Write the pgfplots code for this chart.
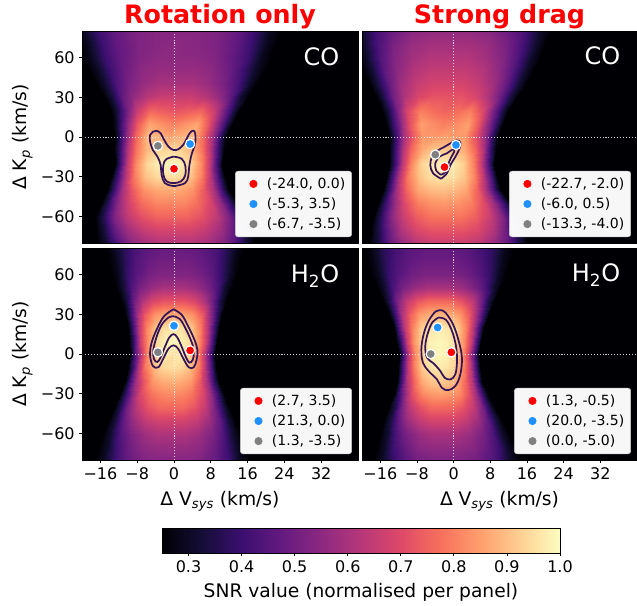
\documentclass[border=0pt]{standalone}
\usepackage{fontspec}
\setmainfont{DejaVu Sans}
\usepackage{pgfplots}
\pgfplotsset{compat=1.18}
\definecolor{contourcol}{RGB}{52,20,88}
\definecolor{mblue}{RGB}{30,144,255}
\definecolor{mgray}{RGB}{128,128,128}
\definecolor{mred}{RGB}{255,0,0}
\tikzset{ttl/.style={anchor=base, yshift=5.25pt, text=mred, font=\bfseries\fontsize{19}{22}\selectfont}}
\pgfplotsset{
  colormap={magma}{rgb255=(0,0,4) rgb255=(20,14,54) rgb255=(59,15,112) rgb255=(100,26,128) rgb255=(140,41,129) rgb255=(183,55,121) rgb255=(222,73,104) rgb255=(247,112,92) rgb255=(254,159,109) rgb255=(254,207,146) rgb255=(252,253,191)},
  panel/.style={
    width=207pt, height=159pt, scale only axis, anchor=north west,
    xmin=-20, xmax=40, ymin=-80, ymax=80,
    axis on top, axis line style={black, line width=0.6pt},
    point meta min=0.25, point meta max=1, colormap name=magma,
    tick align=outside, major tick length=2pt, tick style={black, line width=0.6pt},
    xtick={-16,-8,0,8,16,24,32}, ytick={-60,-30,0,30,60},
    xticklabels={−16,−8,0,8,16,24,32}, yticklabels={−60,−30,0,30,60},
    xtick pos=bottom, ytick pos=left,
    ticklabel style={font=\fontsize{12}{14}\selectfont},
    label style={font=\fontsize{14}{16}\selectfont},
    legend style={at={(0.978,0.028)}, anchor=south east, font=\fontsize{10.5}{12}\selectfont,
      draw=black!20, rounded corners=2pt, fill=white, fill opacity=0.97, draw opacity=1, text opacity=1,
      inner sep=2pt, row sep=0pt, nodes={inner sep=2.8pt}, cells={anchor=west}},
    legend image code/.code={\path (0cm,0cm) (0.65cm,0cm); \draw[##1, opacity=1] plot coordinates {(0.4cm,0cm)};},
  },
  heat/.style={surf, shader=interp, mesh/cols=15, point meta=explicit, forget plot},
  cl/.style={contourcol, line width=1.3pt, smooth, tension=0.6, forget plot, mark=none},
  dl/.style={white, dash pattern=on 0.8pt off 1.4pt, line width=0.6pt, opacity=0.8, forget plot},
  mk/.style={only marks, mark=*, mark size=3.5pt, mark options={fill=#1, draw=white, line width=0.9pt}, forget plot},
  lg/.style={only marks, mark=*, mark size=2.8pt, mark options={fill=#1, draw=#1}},
  ylab/.style={ylabel={Δ K\textsubscript{\textit{p}} (km/s)}, ylabel style={at={(axis description cs:-0.215,0.5)}, anchor=center}},
  xlab/.style={xlabel={Δ V\textsubscript{\textit{sys}} (km/s)}, xlabel style={at={(axis description cs:0.5,-0.194)}, anchor=center}},
}
\begin{document}
\begin{tikzpicture}
\useasboundingbox (0,0) rectangle (477.75pt,-454.5pt);

% ---------------- Panel A: CO, rotation only
\begin{axis}[panel, name=pA, at={(61.5pt,-23.25pt)}, xtick=\empty, ylab]
\addplot[heat] coordinates {
(-30,80)[.20] (-22.2,80)[.20] (-19.9,80)[.29] (-16.5,80)[.40] (-13.1,80)[.47] (-8.6,80)[.52] (-4.0,80)[.54] (0.5,80)[.54] (5.0,80)[.54] (9.6,80)[.52] (14.1,80)[.47] (17.5,80)[.40] (20.9,80)[.29] (23.2,80)[.20] (50,80)[.20]
(-30,70)[.20] (-21.1,70)[.20] (-18.9,70)[.29] (-15.7,70)[.40] (-12.5,70)[.47] (-8.1,70)[.52] (-3.8,70)[.54] (0.5,70)[.55] (4.8,70)[.54] (9.1,70)[.52] (13.5,70)[.47] (16.7,70)[.40] (19.9,70)[.29] (22.1,70)[.20] (50,70)[.20]
(-30,60)[.20] (-20.1,60)[.20] (-18.0,60)[.29] (-15.0,60)[.40] (-11.9,60)[.47] (-7.7,60)[.53] (-3.6,60)[.55] (0.5,60)[.55] (4.6,60)[.55] (8.7,60)[.53] (12.9,60)[.47] (16.0,60)[.40] (19.0,60)[.29] (21.1,60)[.20] (50,60)[.20]
(-30,50)[.20] (-18.5,50)[.20] (-16.6,50)[.30] (-13.8,50)[.41] (-10.9,50)[.49] (-7.1,50)[.55] (-3.3,50)[.57] (0.5,50)[.57] (4.3,50)[.57] (8.1,50)[.55] (11.9,50)[.49] (14.8,50)[.41] (17.6,50)[.30] (19.5,50)[.20] (50,50)[.20]
(-30,40)[.20] (-16.9,40)[.20] (-15.2,40)[.31] (-12.6,40)[.43] (-9.9,40)[.51] (-6.5,40)[.57] (-3.0,40)[.60] (0.5,40)[.60] (4.0,40)[.60] (7.5,40)[.57] (10.9,40)[.51] (13.6,40)[.43] (16.2,40)[.31] (17.9,40)[.20] (50,40)[.20]
(-30,30)[.20] (-15.2,30)[.20] (-13.6,30)[.32] (-11.3,30)[.47] (-9.0,30)[.56] (-5.8,30)[.63] (-2.7,30)[.66] (0.4,30)[.66] (3.5,30)[.66] (6.6,30)[.63] (9.8,30)[.56] (12.1,30)[.47] (14.4,30)[.32] (16.0,30)[.20] (50,30)[.20]
(-30,20)[.20] (-13.6,20)[.20] (-12.2,20)[.35] (-10.1,20)[.52] (-8.0,20)[.66] (-5.3,20)[.76] (-2.5,20)[.74] (0.3,20)[.72] (3.1,20)[.74] (5.9,20)[.76] (8.6,20)[.66] (10.7,20)[.52] (12.8,20)[.35] (14.2,20)[.20] (50,20)[.20]
(-30,10)[.20] (-13.2,10)[.20] (-11.9,10)[.37] (-10.0,10)[.56] (-8.0,10)[.73] (-5.5,10)[.86] (-2.9,10)[.83] (-0.3,10)[.80] (2.3,10)[.83] (4.9,10)[.86] (7.4,10)[.73] (9.4,10)[.56] (11.3,10)[.37] (12.6,10)[.20] (50,10)[.20]
(-30,0)[.20] (-13.0,0)[.20] (-11.8,0)[.38] (-10.0,0)[.59] (-8.2,0)[.76] (-5.7,0)[.90] (-3.3,0)[.88] (-0.9,0)[.86] (1.5,0)[.88] (3.9,0)[.90] (6.4,0)[.76] (8.2,0)[.59] (10.0,0)[.38] (11.2,0)[.20] (50,0)[.20]
(-30,-10)[.20] (-13.0,-10)[.20] (-11.8,-10)[.40] (-10.0,-10)[.63] (-8.2,-10)[.78] (-5.9,-10)[.89] (-3.5,-10)[.93] (-1.1,-10)[.94] (1.3,-10)[.93] (3.7,-10)[.89] (6.0,-10)[.78] (7.8,-10)[.63] (9.6,-10)[.40] (10.8,-10)[.20] (50,-10)[.20]
(-30,-20)[.20] (-12.9,-20)[.20] (-11.7,-20)[.41] (-10.0,-20)[.66] (-8.2,-20)[.82] (-5.9,-20)[.94] (-3.5,-20)[.98] (-1.2,-20)[.99] (1.1,-20)[.98] (3.5,-20)[.94] (5.8,-20)[.82] (7.6,-20)[.66] (9.3,-20)[.41] (10.5,-20)[.20] (50,-20)[.20]
(-30,-30)[.20] (-13.6,-30)[.20] (-12.4,-30)[.40] (-10.5,-30)[.63] (-8.7,-30)[.79] (-6.2,-30)[.90] (-3.8,-30)[.94] (-1.3,-30)[.95] (1.2,-30)[.94] (3.6,-30)[.90] (6.1,-30)[.79] (7.9,-30)[.63] (9.8,-30)[.40] (11.0,-30)[.20] (50,-30)[.20]
(-30,-40)[.20] (-14.5,-40)[.20] (-13.2,-40)[.38] (-11.2,-40)[.59] (-9.2,-40)[.73] (-6.6,-40)[.83] (-3.9,-40)[.86] (-1.3,-40)[.87] (1.3,-40)[.86] (4.0,-40)[.83] (6.6,-40)[.73] (8.6,-40)[.59] (10.6,-40)[.38] (11.9,-40)[.20] (50,-40)[.20]
(-30,-50)[.20] (-15.8,-50)[.20] (-14.3,-50)[.37] (-12.1,-50)[.55] (-9.8,-50)[.68] (-6.9,-50)[.77] (-3.9,-50)[.81] (-0.9,-50)[.81] (2.1,-50)[.81] (5.1,-50)[.77] (8.0,-50)[.68] (10.3,-50)[.55] (12.5,-50)[.37] (14.0,-50)[.20] (50,-50)[.20]
(-30,-60)[.20] (-17.2,-60)[.20] (-15.5,-60)[.35] (-13.0,-60)[.52] (-10.5,-60)[.63] (-7.2,-60)[.71] (-3.8,-60)[.75] (-0.5,-60)[.75] (2.8,-60)[.75] (6.2,-60)[.71] (9.5,-60)[.63] (12.0,-60)[.52] (14.5,-60)[.35] (16.2,-60)[.20] (50,-60)[.20]
(-30,-70)[.20] (-17.0,-70)[.20] (-15.3,-70)[.33] (-12.8,-70)[.48] (-10.2,-70)[.58] (-6.8,-70)[.65] (-3.4,-70)[.68] (0,-70)[.68] (3.4,-70)[.68] (6.8,-70)[.65] (10.2,-70)[.58] (12.8,-70)[.48] (15.3,-70)[.33] (17.0,-70)[.20] (50,-70)[.20]
(-30,-80)[.20] (-16.7,-80)[.20] (-15.0,-80)[.31] (-12.4,-80)[.44] (-9.8,-80)[.53] (-6.4,-80)[.59] (-2.9,-80)[.62] (0.5,-80)[.62] (3.9,-80)[.62] (7.4,-80)[.59] (10.8,-80)[.53] (13.4,-80)[.44] (16.0,-80)[.31] (17.7,-80)[.20] (50,-80)[.20]
};
\addplot[dl] coordinates {(0,-80) (0,80)};
\addplot[dl] coordinates {(-20,0) (40,0)};
\addplot[cl] coordinates {(0.2,-37.0) (2.4,-34.8) (3.1,-29.8) (3.3,-22.3) (3.8,-13.5) (4.6,-4.8) (4.6,2.8) (4.2,4.8) (3.5,3.3) (2.8,-1.0) (2.0,-6.0) (0.9,-9.3) (-0.1,-9.8) (-1.2,-7.3) (-2.2,-1.8) (-2.9,2.8) (-3.8,4.7) (-4.6,4.0) (-5.2,1.5) (-5.2,-3.5) (-4.6,-9.8) (-3.6,-14.8) (-2.9,-21.0) (-2.7,-28.5) (-2.0,-34.8) (-0.5,-36.8) (0.2,-37.0)};
\addplot[cl] coordinates {(-0.1,-14.8) (1.7,-16.5) (2.5,-22.3) (2.4,-29.3) (1.5,-33.5) (-0.1,-34.8) (-1.6,-33.5) (-2.3,-28.5) (-2.3,-21.0) (-1.7,-16.8) (-0.1,-14.8)};
\addplot[mk=mred] coordinates {(0,-24)};
\addplot[mk=mblue] coordinates {(3.5,-5.3)};
\addplot[mk=mgray] coordinates {(-3.5,-6.7)};
\addlegendimage{lg=mred}\addlegendentry{(-24.0, 0.0)}
\addlegendimage{lg=mblue}\addlegendentry{(-5.3, 3.5)}
\addlegendimage{lg=mgray}\addlegendentry{(-6.7, -3.5)}
\node[anchor=base east, text=white, font=\fontsize{18}{20}\selectfont] at (rel axis cs:0.949,0.835) {CO};
\end{axis}
\node[ttl] at (pA.north) {Rotation only};

% ---------------- Panel B: CO, strong drag
\begin{axis}[panel, name=pB, at={(271.5pt,-23.25pt)}, width=206.25pt, xtick=\empty, ytick=\empty]
\addplot[heat] coordinates {
(-30,80)[.20] (-22.7,80)[.20] (-20.5,80)[.30] (-17.2,80)[.41] (-13.9,80)[.48] (-9.5,80)[.54] (-5.1,80)[.56] (-0.8,80)[.56] (3.6,80)[.56] (8.0,80)[.54] (12.4,80)[.48] (15.7,80)[.41] (19.0,80)[.30] (21.2,80)[.20] (50,80)[.20]
(-30,70)[.20] (-21.8,70)[.20] (-19.7,70)[.31] (-16.6,70)[.43] (-13.4,70)[.51] (-9.3,70)[.57] (-5.1,70)[.59] (-0.9,70)[.59] (3.3,70)[.59] (7.5,70)[.57] (11.6,70)[.51] (14.8,70)[.43] (17.9,70)[.31] (20.0,70)[.20] (50,70)[.20]
(-30,60)[.20] (-21.0,60)[.20] (-19.0,60)[.31] (-16.0,60)[.44] (-13.0,60)[.53] (-9.1,60)[.59] (-5.1,60)[.62] (-1.1,60)[.62] (2.9,60)[.62] (6.9,60)[.59] (10.8,60)[.53] (13.8,60)[.44] (16.8,60)[.31] (18.8,60)[.20] (50,60)[.20]
(-30,50)[.20] (-19.8,50)[.20] (-17.9,50)[.32] (-15.1,50)[.46] (-12.4,50)[.55] (-8.7,50)[.62] (-5.0,50)[.65] (-1.3,50)[.65] (2.5,50)[.65] (6.2,50)[.62] (9.9,50)[.55] (12.6,50)[.46] (15.4,50)[.32] (17.3,50)[.20] (50,50)[.20]
(-30,40)[.20] (-18.5,40)[.20] (-16.8,40)[.33] (-14.2,40)[.48] (-11.7,40)[.58] (-8.2,40)[.65] (-4.8,40)[.68] (-1.4,40)[.68] (2.0,40)[.68] (5.4,40)[.65] (8.9,40)[.58] (11.4,40)[.48] (14.0,40)[.33] (15.7,40)[.20] (50,40)[.20]
(-30,30)[.20] (-17.0,30)[.20] (-15.5,30)[.34] (-13.2,30)[.50] (-10.8,30)[.61] (-7.8,30)[.69] (-4.7,30)[.72] (-1.6,30)[.72] (1.5,30)[.72] (4.6,30)[.69] (7.6,30)[.61] (10.0,30)[.50] (12.3,30)[.34] (13.8,30)[.20] (50,30)[.20]
(-30,20)[.20] (-15.6,20)[.20] (-14.2,20)[.35] (-12.1,20)[.53] (-10.1,20)[.69] (-7.3,20)[.80] (-4.6,20)[.77] (-1.9,20)[.75] (0.9,20)[.77] (3.6,20)[.80] (6.4,20)[.69] (8.4,20)[.53] (10.5,20)[.35] (11.9,20)[.20] (50,20)[.20]
(-30,10)[.20] (-14.7,10)[.20] (-13.4,10)[.37] (-11.5,10)[.55] (-9.6,10)[.72] (-7.1,10)[.85] (-4.5,10)[.82] (-2.0,10)[.80] (0.5,10)[.82] (3.1,10)[.85] (5.6,10)[.72] (7.5,10)[.55] (9.4,10)[.37] (10.7,10)[.20] (50,10)[.20]
(-30,0)[.20] (-14.0,0)[.20] (-12.8,0)[.38] (-11.1,0)[.58] (-9.3,0)[.71] (-6.9,0)[.84] (-4.6,0)[.84] (-2.2,0)[.85] (0.2,0)[.84] (2.5,0)[.84] (4.9,0)[.71] (6.7,0)[.58] (8.4,0)[.38] (9.6,0)[.20] (50,0)[.20]
(-30,-10)[.20] (-14.0,-10)[.20] (-12.8,-10)[.40] (-11.1,-10)[.62] (-9.4,-10)[.76] (-7.0,-10)[.87] (-4.7,-10)[.91] (-2.4,-10)[.92] (-0.1,-10)[.91] (2.2,-10)[.87] (4.6,-10)[.76] (6.3,-10)[.62] (8.0,-10)[.40] (9.2,-10)[.20] (50,-10)[.20]
(-30,-20)[.20] (-14.0,-20)[.20] (-12.8,-20)[.41] (-11.1,-20)[.65] (-9.4,-20)[.81] (-7.1,-20)[.93] (-4.8,-20)[.97] (-2.6,-20)[.98] (-0.3,-20)[.97] (2.0,-20)[.93] (4.3,-20)[.81] (6.0,-20)[.65] (7.7,-20)[.41] (8.9,-20)[.20] (50,-20)[.20]
(-30,-30)[.20] (-14.7,-30)[.20] (-13.5,-30)[.41] (-11.7,-30)[.64] (-9.9,-30)[.80] (-7.4,-30)[.91] (-5.0,-30)[.95] (-2.6,-30)[.96] (-0.2,-30)[.95] (2.2,-30)[.91] (4.7,-30)[.80] (6.5,-30)[.64] (8.3,-30)[.41] (9.5,-30)[.20] (50,-30)[.20]
(-30,-40)[.20] (-15.5,-40)[.20] (-14.2,-40)[.39] (-12.3,-40)[.60] (-10.3,-40)[.75] (-7.8,-40)[.86] (-5.2,-40)[.89] (-2.6,-40)[.90] (0.0,-40)[.89] (2.6,-40)[.86] (5.1,-40)[.75] (7.1,-40)[.60] (9.0,-40)[.39] (10.3,-40)[.20] (50,-40)[.20]
(-30,-50)[.20] (-16.5,-50)[.20] (-15.1,-50)[.37] (-12.9,-50)[.57] (-10.7,-50)[.70] (-7.8,-50)[.80] (-4.9,-50)[.83] (-2.0,-50)[.84] (0.9,-50)[.83] (3.8,-50)[.80] (6.7,-50)[.70] (8.9,-50)[.57] (11.1,-50)[.37] (12.5,-50)[.20] (50,-50)[.20]
(-30,-60)[.20] (-17.6,-60)[.20] (-16.0,-60)[.36] (-13.6,-60)[.54] (-11.2,-60)[.65] (-7.9,-60)[.74] (-4.7,-60)[.78] (-1.5,-60)[.78] (1.7,-60)[.78] (4.9,-60)[.74] (8.2,-60)[.65] (10.6,-60)[.54] (13.0,-60)[.36] (14.6,-60)[.20] (50,-60)[.20]
(-30,-70)[.20] (-18.1,-70)[.20] (-16.4,-70)[.34] (-13.9,-70)[.50] (-11.4,-70)[.61] (-8.0,-70)[.69] (-4.7,-70)[.72] (-1.3,-70)[.72] (2.1,-70)[.72] (5.4,-70)[.69] (8.8,-70)[.61] (11.3,-70)[.50] (13.8,-70)[.34] (15.5,-70)[.20] (50,-70)[.20]
(-30,-80)[.20] (-18.5,-80)[.20] (-16.8,-80)[.32] (-14.2,-80)[.47] (-11.5,-80)[.56] (-8.1,-80)[.63] (-4.6,-80)[.66] (-1.1,-80)[.66] (2.4,-80)[.66] (5.9,-80)[.63] (9.3,-80)[.56] (12.0,-80)[.47] (14.6,-80)[.32] (16.3,-80)[.20] (50,-80)[.20]
};
\addplot[dl] coordinates {(0,-80) (0,80)};
\addplot[dl] coordinates {(-20,0) (40,0)};
\addplot[cl] coordinates {(-2.75,-31.5) (-4.5,-27.3) (-5.1,-21.0) (-4.7,-14.8) (-3.6,-10.5) (-2.2,-7.8) (-0.7,-4.8) (0.6,-2.5) (1.45,-4.0) (1.3,-8.5) (0.4,-14.8) (-0.7,-21.0) (-1.45,-27.3) (-2.75,-31.5)};
\addplot[cl] coordinates {(-2.77,-28.5) (-3.79,-25.5) (-4.0,-19.75) (-3.06,-14.75) (-1.45,-12.25) (-0.15,-9.25) (0.14,-11.0) (-0.58,-15.5) (-1.24,-21.0) (-1.82,-26.5) (-2.77,-28.5)};
\addplot[mk=mred] coordinates {(-2,-22.7)};
\addplot[mk=mblue] coordinates {(0.5,-6)};
\addplot[mk=mgray] coordinates {(-4,-13.3)};
\addlegendimage{lg=mred}\addlegendentry{(-22.7, -2.0)}
\addlegendimage{lg=mblue}\addlegendentry{(-6.0, 0.5)}
\addlegendimage{lg=mgray}\addlegendentry{(-13.3, -4.0)}
\node[anchor=base east, text=white, font=\fontsize{18}{20}\selectfont] at (rel axis cs:0.956,0.84) {CO};
\end{axis}
\node[ttl] at (pB.north) {Strong drag};

% ---------------- Panel C: H2O, rotation only
\begin{axis}[panel, at={(61.5pt,-186pt)}, ylab, xlab]
\addplot[heat] coordinates {
(-30,80)[.20] (-14.9,80)[.20] (-13.4,80)[.28] (-11.1,80)[.36] (-8.9,80)[.42] (-5.8,80)[.46] (-2.8,80)[.48] (0.2,80)[.48] (3.2,80)[.48] (6.2,80)[.46] (9.3,80)[.42] (11.5,80)[.36] (13.8,80)[.28] (15.3,80)[.20] (50,80)[.20]
(-30,70)[.20] (-14.2,70)[.20] (-12.8,70)[.28] (-10.6,70)[.37] (-8.5,70)[.44] (-5.6,70)[.48] (-2.8,70)[.50] (0.1,70)[.50] (3.0,70)[.50] (5.8,70)[.48] (8.7,70)[.44] (10.8,70)[.37] (13.0,70)[.28] (14.4,70)[.20] (50,70)[.20]
(-30,60)[.20] (-13.6,60)[.20] (-12.2,60)[.29] (-10.2,60)[.39] (-8.1,60)[.46] (-5.4,60)[.51] (-2.7,60)[.53] (0.0,60)[.53] (2.8,60)[.53] (5.5,60)[.51] (8.2,60)[.46] (10.3,60)[.39] (12.3,60)[.29] (13.7,60)[.20] (50,60)[.20]
(-30,50)[.20] (-12.5,50)[.20] (-11.2,50)[.31] (-9.4,50)[.43] (-7.5,50)[.51] (-5.0,50)[.57] (-2.5,50)[.60] (-0.1,50)[.60] (2.4,50)[.60] (4.9,50)[.57] (7.4,50)[.51] (9.3,50)[.43] (11.1,50)[.31] (12.4,50)[.20] (50,50)[.20]
(-30,40)[.20] (-11.5,40)[.20] (-10.3,40)[.34] (-8.6,40)[.50] (-6.9,40)[.61] (-4.7,40)[.69] (-2.4,40)[.72] (-0.2,40)[.72] (2.1,40)[.72] (4.4,40)[.69] (6.6,40)[.61] (8.3,40)[.50] (10.0,40)[.34] (11.2,40)[.20] (50,40)[.20]
(-30,30)[.20] (-10.7,30)[.20] (-9.6,30)[.38] (-8.0,30)[.58] (-6.5,30)[.72] (-4.4,30)[.82] (-2.3,30)[.85] (-0.2,30)[.86] (2.0,30)[.85] (4.1,30)[.82] (6.2,30)[.72] (7.7,30)[.58] (9.3,30)[.38] (10.4,30)[.20] (50,30)[.20]
(-30,20)[.20] (-10.0,20)[.20] (-9.0,20)[.41] (-7.5,20)[.64] (-6.0,20)[.80] (-4.1,20)[.91] (-2.1,20)[.95] (-0.2,20)[.96] (1.8,20)[.95] (3.8,20)[.91] (5.7,20)[.80] (7.2,20)[.64] (8.7,20)[.41] (9.7,20)[.20] (50,20)[.20]
(-30,10)[.20] (-9.7,10)[.20] (-8.8,10)[.41] (-7.3,10)[.66] (-5.9,10)[.82] (-4.0,10)[.94] (-2.1,10)[.98] (-0.2,10)[.99] (1.7,10)[.98] (3.6,10)[.94] (5.5,10)[.82] (6.9,10)[.66] (8.4,10)[.41] (9.3,10)[.20] (50,10)[.20]
(-30,0)[.20] (-9.5,0)[.20] (-8.6,0)[.41] (-7.2,0)[.65] (-5.8,0)[.81] (-4.0,0)[.93] (-2.1,0)[.97] (-0.3,0)[.95] (1.5,0)[.97] (3.4,0)[.93] (5.2,0)[.81] (6.6,0)[.65] (8.0,0)[.41] (8.9,0)[.20] (50,0)[.20]
(-30,-10)[.20] (-10.0,-10)[.20] (-9.0,-10)[.40] (-7.6,-10)[.63] (-6.2,-10)[.79] (-4.2,-10)[.90] (-2.3,-10)[.94] (-0.4,-10)[.95] (1.5,-10)[.94] (3.4,-10)[.90] (5.4,-10)[.79] (6.8,-10)[.63] (8.2,-10)[.40] (9.2,-10)[.20] (50,-10)[.20]
(-30,-20)[.20] (-10.7,-20)[.20] (-9.7,-20)[.38] (-8.2,-20)[.59] (-6.6,-20)[.73] (-4.6,-20)[.84] (-2.5,-20)[.87] (-0.5,-20)[.88] (1.5,-20)[.87] (3.6,-20)[.84] (5.6,-20)[.73] (7.2,-20)[.59] (8.7,-20)[.38] (9.7,-20)[.20] (50,-20)[.20]
(-30,-30)[.20] (-11.8,-30)[.20] (-10.7,-30)[.37] (-9.0,-30)[.56] (-7.3,-30)[.69] (-5.0,-30)[.78] (-2.8,-30)[.81] (-0.5,-30)[.82] (1.8,-30)[.81] (4.0,-30)[.78] (6.3,-30)[.69] (8.0,-30)[.56] (9.7,-30)[.37] (10.8,-30)[.20] (50,-30)[.20]
(-30,-40)[.20] (-13.1,-40)[.20] (-11.8,-40)[.35] (-9.9,-40)[.52] (-8.1,-40)[.64] (-5.6,-40)[.72] (-3.1,-40)[.76] (-0.6,-40)[.76] (2.0,-40)[.76] (4.5,-40)[.72] (7.0,-40)[.64] (8.8,-40)[.52] (10.7,-40)[.35] (12.0,-40)[.20] (50,-40)[.20]
(-30,-50)[.20] (-14.2,-50)[.20] (-12.8,-50)[.33] (-10.8,-50)[.48] (-8.7,-50)[.58] (-6.0,-50)[.65] (-3.2,-50)[.68] (-0.5,-50)[.68] (2.2,-50)[.68] (5.0,-50)[.65] (7.7,-50)[.58] (9.8,-50)[.48] (11.8,-50)[.33] (13.2,-50)[.20] (50,-50)[.20]
(-30,-60)[.20] (-15.4,-60)[.20] (-13.9,-60)[.31] (-11.7,-60)[.44] (-9.4,-60)[.52] (-6.5,-60)[.58] (-3.5,-60)[.61] (-0.5,-60)[.61] (2.5,-60)[.61] (5.5,-60)[.58] (8.4,-60)[.52] (10.7,-60)[.44] (12.9,-60)[.31] (14.4,-60)[.20] (50,-60)[.20]
(-30,-70)[.20] (-16.2,-70)[.20] (-14.6,-70)[.30] (-12.3,-70)[.41] (-9.9,-70)[.49] (-6.8,-70)[.55] (-3.6,-70)[.57] (-0.5,-70)[.57] (2.6,-70)[.57] (5.8,-70)[.55] (8.9,-70)[.49] (11.3,-70)[.41] (13.6,-70)[.30] (15.2,-70)[.20] (50,-70)[.20]
(-30,-80)[.20] (-17.0,-80)[.20] (-15.4,-80)[.29] (-12.9,-80)[.40] (-10.4,-80)[.47] (-7.1,-80)[.52] (-3.8,-80)[.54] (-0.5,-80)[.54] (2.8,-80)[.54] (6.1,-80)[.52] (9.4,-80)[.47] (11.9,-80)[.40] (14.4,-80)[.29] (16.0,-80)[.20] (50,-80)[.20]
};
\addplot[dl] coordinates {(0,-80) (0,80)};
\addplot[dl] coordinates {(-20,0) (40,0)};
\addplot[cl] coordinates {(-0.1,33.8) (1.7,29.5) (3.1,20.7) (4.4,11.1) (5.1,3.0) (4.9,-4.5) (4.3,-10.0) (3.2,-10.0) (2.0,-3.3) (0.9,4.0) (-0.1,6.5) (-1.2,4.0) (-2.3,-3.3) (-3.4,-10.0) (-4.6,-9.0) (-5.2,-0.8) (-4.9,8.1) (-3.8,18.2) (-2.2,28.3) (-0.1,33.8)};
\addplot[cl] coordinates {(-0.1,28.5) (1.3,26.3) (2.6,18.7) (3.8,9.3) (4.35,1.8) (4.06,-4.5) (3.33,-6.5) (2.6,-2.5) (1.67,5.5) (0.72,12.5) (-0.1,15.0) (-1.02,12.5) (-1.96,5.5) (-2.9,-2.5) (-3.62,-6.0) (-4.35,-3.8) (-4.49,3.0) (-3.77,13.1) (-2.68,22.0) (-1.23,27.5) (-0.1,28.5)};
\addplot[mk=mred] coordinates {(3.5,2.7)};
\addplot[mk=mblue] coordinates {(0,21.3)};
\addplot[mk=mgray] coordinates {(-3.5,1.3)};
\addlegendimage{lg=mred}\addlegendentry{(2.7, 3.5)}
\addlegendimage{lg=mblue}\addlegendentry{(21.3, 0.0)}
\addlegendimage{lg=mgray}\addlegendentry{(1.3, -3.5)}
\node[anchor=base east, text=white, font=\fontsize{18}{20}\selectfont] at (rel axis cs:0.949,0.835) {H\textsubscript{2}O};
\end{axis}

% ---------------- Panel D: H2O, strong drag
\begin{axis}[panel, at={(271.5pt,-186pt)}, width=206.25pt, ytick=\empty, xlab]
\addplot[heat] coordinates {
(-30,80)[.20] (-19.7,80)[.20] (-18.1,80)[.27] (-15.6,80)[.36] (-13.1,80)[.41] (-9.9,80)[.45] (-6.6,80)[.47] (-3.3,80)[.47] (0.0,80)[.47] (3.3,80)[.45] (6.5,80)[.41] (9.0,80)[.36] (11.5,80)[.27] (13.1,80)[.20] (50,80)[.20]
(-30,70)[.20] (-18.8,70)[.20] (-17.3,70)[.28] (-14.9,70)[.37] (-12.6,70)[.43] (-9.5,70)[.47] (-6.4,70)[.49] (-3.3,70)[.49] (-0.2,70)[.49] (2.9,70)[.47] (6.0,70)[.43] (8.3,70)[.37] (10.7,70)[.28] (12.2,70)[.20] (50,70)[.20]
(-30,60)[.20] (-18.0,60)[.20] (-16.5,60)[.29] (-14.3,60)[.39] (-12.1,60)[.45] (-9.1,60)[.50] (-6.2,60)[.52] (-3.3,60)[.52] (-0.3,60)[.52] (2.6,60)[.50] (5.6,60)[.45] (7.8,60)[.39] (10.0,60)[.29] (11.5,60)[.20] (50,60)[.20]
(-30,50)[.20] (-16.7,50)[.20] (-15.3,50)[.31] (-13.3,50)[.43] (-11.3,50)[.51] (-8.6,50)[.57] (-5.9,50)[.60] (-3.3,50)[.60] (-0.6,50)[.60] (2.1,50)[.57] (4.8,50)[.51] (6.8,50)[.43] (8.8,50)[.31] (10.2,50)[.20] (50,50)[.20]
(-30,40)[.20] (-15.4,40)[.20] (-14.1,40)[.35] (-12.3,40)[.52] (-10.5,40)[.64] (-8.1,40)[.72] (-5.7,40)[.76] (-3.3,40)[.76] (-0.8,40)[.76] (1.6,40)[.72] (4.0,40)[.64] (5.8,40)[.52] (7.6,40)[.35] (8.9,40)[.20] (50,40)[.20]
(-30,30)[.20] (-14.2,30)[.20] (-13.1,30)[.38] (-11.4,30)[.59] (-9.8,30)[.73] (-7.6,30)[.84] (-5.4,30)[.87] (-3.3,30)[.88] (-1.1,30)[.87] (1.1,30)[.84] (3.3,30)[.73] (4.9,30)[.59] (6.6,30)[.38] (7.7,30)[.20] (50,30)[.20]
(-30,20)[.20] (-13.1,20)[.20] (-12.1,20)[.41] (-10.6,20)[.65] (-9.1,20)[.80] (-7.2,20)[.92] (-5.2,20)[.96] (-3.3,20)[.97] (-1.3,20)[.96] (0.7,20)[.92] (2.6,20)[.80] (4.1,20)[.65] (5.6,20)[.41] (6.6,20)[.20] (50,20)[.20]
(-30,10)[.20] (-12.5,10)[.20] (-11.5,10)[.41] (-10.2,10)[.66] (-8.8,10)[.82] (-6.9,10)[.94] (-5.1,10)[.98] (-3.3,10)[.99] (-1.4,10)[.98] (0.4,10)[.94] (2.3,10)[.82] (3.7,10)[.66] (5.0,10)[.41] (6.0,10)[.20] (50,10)[.20]
(-30,0)[.20] (-12.0,0)[.20] (-11.1,0)[.41] (-9.8,0)[.66] (-8.5,0)[.82] (-6.7,0)[.94] (-5.0,0)[.98] (-3.3,0)[.99] (-1.5,0)[.98] (0.2,0)[.94] (2.0,0)[.82] (3.3,0)[.66] (4.6,0)[.41] (5.5,0)[.20] (50,0)[.20]
(-30,-10)[.20] (-12.2,-10)[.20] (-11.3,-10)[.41] (-10.0,-10)[.65] (-8.6,-10)[.80] (-6.8,-10)[.92] (-5.0,-10)[.96] (-3.2,-10)[.97] (-1.4,-10)[.96] (0.4,-10)[.92] (2.2,-10)[.80] (3.6,-10)[.65] (4.9,-10)[.41] (5.8,-10)[.20] (50,-10)[.20]
(-30,-20)[.20] (-12.4,-20)[.20] (-11.5,-20)[.40] (-10.1,-20)[.62] (-8.7,-20)[.76] (-6.8,-20)[.87] (-5.0,-20)[.91] (-3.1,-20)[.92] (-1.2,-20)[.91] (0.6,-20)[.87] (2.5,-20)[.76] (3.9,-20)[.62] (5.3,-20)[.40] (6.2,-20)[.20] (50,-20)[.20]
(-30,-30)[.20] (-13.1,-30)[.20] (-12.1,-30)[.38] (-10.5,-30)[.58] (-9.0,-30)[.71] (-6.9,-30)[.81] (-4.9,-30)[.84] (-2.8,-30)[.85] (-0.7,-30)[.84] (1.3,-30)[.81] (3.4,-30)[.71] (4.9,-30)[.58] (6.5,-30)[.38] (7.5,-30)[.20] (50,-30)[.20]
(-30,-40)[.20] (-14.1,-40)[.20] (-12.9,-40)[.35] (-11.2,-40)[.52] (-9.5,-40)[.64] (-7.2,-40)[.72] (-4.9,-40)[.76] (-2.6,-40)[.76] (-0.3,-40)[.76] (2.1,-40)[.72] (4.4,-40)[.64] (6.1,-40)[.52] (7.8,-40)[.35] (9.0,-40)[.20] (50,-40)[.20]
(-30,-50)[.20] (-15.1,-50)[.20] (-13.8,-50)[.33] (-11.9,-50)[.48] (-10.0,-50)[.58] (-7.4,-50)[.65] (-4.9,-50)[.68] (-2.3,-50)[.68] (0.3,-50)[.68] (2.8,-50)[.65] (5.4,-50)[.58] (7.3,-50)[.48] (9.2,-50)[.33] (10.5,-50)[.20] (50,-50)[.20]
(-30,-60)[.20] (-16.0,-60)[.20] (-14.6,-60)[.31] (-12.5,-60)[.43] (-10.4,-60)[.51] (-7.6,-60)[.57] (-4.8,-60)[.60] (-2.0,-60)[.60] (0.8,-60)[.60] (3.6,-60)[.57] (6.4,-60)[.51] (8.5,-60)[.43] (10.6,-60)[.31] (12.0,-60)[.20] (50,-60)[.20]
(-30,-70)[.20] (-16.7,-70)[.20] (-15.2,-70)[.30] (-13.0,-70)[.41] (-10.7,-70)[.48] (-7.7,-70)[.54] (-4.7,-70)[.56] (-1.7,-70)[.56] (1.3,-70)[.56] (4.3,-70)[.54] (7.3,-70)[.48] (9.6,-70)[.41] (11.8,-70)[.30] (13.3,-70)[.20] (50,-70)[.20]
(-30,-80)[.20] (-17.5,-80)[.20] (-15.9,-80)[.29] (-13.5,-80)[.38] (-11.1,-80)[.45] (-7.9,-80)[.50] (-4.7,-80)[.52] (-1.5,-80)[.52] (1.7,-80)[.52] (4.9,-80)[.50] (8.1,-80)[.45] (10.6,-80)[.38] (13.0,-80)[.29] (14.6,-80)[.20] (50,-80)[.20]
};
\addplot[dl] coordinates {(0,-80) (0,80)};
\addplot[dl] coordinates {(-20,0) (40,0)};
\addplot[cl] coordinates {(-2.7,33.0) (-1.8,31.3) (-0.15,22.5) (1.1,9.8) (1.8,-2.8) (1.45,-15.4) (0.36,-24.2) (-1.24,-27.3) (-2.55,-25.5) (-3.64,-19.2) (-5.46,-12.9) (-6.7,-6.6) (-7.05,3.5) (-6.55,14.9) (-5.46,25.0) (-3.9,32.2) (-2.7,33.0)};
\addplot[cl] coordinates {(-3.28,27.5) (-1.68,25.8) (-0.37,17.4) (0.5,6.1) (0.73,-5.3) (0.36,-15.4) (-0.73,-19.2) (-1.97,-17.9) (-2.9,-12.9) (-4.37,-7.1) (-5.82,-2.8) (-6.19,6.1) (-5.6,16.2) (-4.59,24.2) (-3.28,27.5)};
\addplot[mk=mred] coordinates {(-0.5,1.3)};
\addplot[mk=mblue] coordinates {(-3.5,20)};
\addplot[mk=mgray] coordinates {(-5,0)};
\addlegendimage{lg=mred}\addlegendentry{(1.3, -0.5)}
\addlegendimage{lg=mblue}\addlegendentry{(20.0, -3.5)}
\addlegendimage{lg=mgray}\addlegendentry{(0.0, -5.0)}
\node[anchor=base east, text=white, font=\fontsize{18}{20}\selectfont] at (rel axis cs:0.956,0.84) {H\textsubscript{2}O};
\end{axis}

% ---------------- Colorbar
\begin{axis}[at={(121.5pt,-396pt)}, anchor=north west, width=298.5pt, height=18.75pt, scale only axis,
  xmin=0.25, xmax=1, ymin=0, ymax=1, ytick=\empty,
  xtick={0.3,0.4,0.5,0.6,0.7,0.8,0.9,1.0}, xticklabels={0.3,0.4,0.5,0.6,0.7,0.8,0.9,1.0},
  tick align=outside, xtick pos=bottom, major tick length=2pt, tick style={black, line width=0.6pt},
  axis on top, axis line style={black, line width=0.6pt},
  point meta min=0.25, point meta max=1, colormap name=magma,
  ticklabel style={font=\fontsize{12}{14}\selectfont},
  xlabel={SNR value (normalised per panel)},
  xlabel style={font=\fontsize{14}{16}\selectfont, at={(axis description cs:0.5,-1.56)}, anchor=center}]
\addplot[surf, shader=interp, mesh/cols=16, point meta=explicit] coordinates {
(0.25,0)[0.25] (0.30,0)[0.30] (0.35,0)[0.35] (0.40,0)[0.40] (0.45,0)[0.45] (0.50,0)[0.50] (0.55,0)[0.55] (0.60,0)[0.60] (0.65,0)[0.65] (0.70,0)[0.70] (0.75,0)[0.75] (0.80,0)[0.80] (0.85,0)[0.85] (0.90,0)[0.90] (0.95,0)[0.95] (1.00,0)[1.00]
(0.25,1)[0.25] (0.30,1)[0.30] (0.35,1)[0.35] (0.40,1)[0.40] (0.45,1)[0.45] (0.50,1)[0.50] (0.55,1)[0.55] (0.60,1)[0.60] (0.65,1)[0.65] (0.70,1)[0.70] (0.75,1)[0.75] (0.80,1)[0.80] (0.85,1)[0.85] (0.90,1)[0.90] (0.95,1)[0.95] (1.00,1)[1.00]
};
\end{axis}
\end{tikzpicture}
\end{document}
